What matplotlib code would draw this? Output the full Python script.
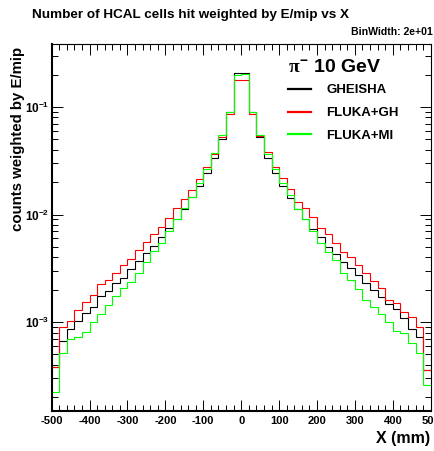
import numpy as np
import matplotlib
matplotlib.use("Agg")
import matplotlib.pyplot as plt
from matplotlib.ticker import MultipleLocator, LogLocator, NullFormatter, FixedLocator, FixedFormatter
from matplotlib.lines import Line2D

plt.rcParams['font.family'] = ['Liberation Sans', 'DejaVu Sans']
plt.rcParams['font.weight'] = 'bold'
plt.rcParams['mathtext.fontset'] = 'custom'
plt.rcParams['mathtext.rm'] = 'Liberation Sans:bold'
plt.rcParams['mathtext.bf'] = 'Liberation Sans:bold'
plt.rcParams['mathtext.it'] = 'Liberation Serif'

# Histogram binning (mm)
x_lo, x_hi, bin_width = -500, 500, 20
edges = np.arange(x_lo, x_hi + bin_width, bin_width)

# Energy-weighted hit counts per 20 mm bin in X
gheisha = [3.8e-4, 6.66e-4, 8.55e-4, 1.028e-3, 1.204e-3, 1.37e-3, 1.745e-3, 1.94e-3, 2.32e-3, 2.55e-3,
           3.09e-3, 3.68e-3, 4.35e-3, 5.15e-3, 6.14e-3, 7.44e-3, 9.08e-3, 1.124e-2, 1.445e-2, 1.83e-2,
           2.41e-2, 3.36e-2, 5.03e-2, 9.04e-2, 0.2085, 0.2056, 8.92e-2, 5.22e-2, 3.38e-2, 2.41e-2,
           1.84e-2, 1.432e-2, 1.124e-2, 9.08e-3, 7.28e-3, 6.22e-3, 5.02e-3, 4.27e-3, 3.64e-3, 3.16e-3,
           2.73e-3, 2.29e-3, 1.99e-3, 1.72e-3, 1.47e-3, 1.31e-3, 1.08e-3, 8.6e-4, 7.2e-4, 3.55e-4]

fluka_gh = [3.84e-4, 9.04e-4, 1.028e-3, 1.294e-3, 1.535e-3, 1.77e-3, 2.24e-3, 2.46e-3, 2.88e-3, 3.39e-3,
            3.86e-3, 4.70e-3, 5.58e-3, 6.59e-3, 7.71e-3, 9.23e-3, 1.156e-2, 1.384e-2, 1.69e-2, 2.14e-2,
            2.79e-2, 3.66e-2, 5.30e-2, 8.61e-2, 0.178, 0.178, 8.55e-2, 5.37e-2, 3.79e-2, 2.79e-2,
            2.17e-2, 1.714e-2, 1.315e-2, 1.14e-2, 9.55e-3, 7.53e-3, 6.55e-3, 5.47e-3, 4.51e-3, 4.0e-3,
            3.39e-3, 2.88e-3, 2.42e-3, 2.06e-3, 1.62e-3, 1.51e-3, 1.25e-3, 1.12e-3, 9.04e-4, 3.6e-4]

fluka_mi = [2.22e-4, 5.19e-4, 6.9e-4, 7.31e-4, 8.07e-4, 1.0e-3, 1.20e-3, 1.44e-3, 1.76e-3, 2.06e-3,
            2.37e-3, 2.89e-3, 3.64e-3, 4.60e-3, 5.47e-3, 7.03e-3, 9.08e-3, 1.14e-2, 1.465e-2, 1.95e-2,
            2.67e-2, 3.71e-2, 5.46e-2, 9.04e-2, 0.200, 0.2027, 9.04e-2, 5.49e-2, 3.63e-2, 2.65e-2,
            1.95e-2, 1.517e-2, 1.124e-2, 9.08e-3, 7.06e-3, 5.47e-3, 4.51e-3, 3.78e-3, 2.84e-3, 2.46e-3,
            2.01e-3, 1.60e-3, 1.39e-3, 1.20e-3, 1.0e-3, 8.24e-4, 7.85e-4, 6.34e-4, 5.12e-4, 2.6e-4]

series_labels = ["GHEISHA", "FLUKA+GH", "FLUKA+MI"]
series_colors = ["#000000", "#ff0000", "#00ff00"]
x_ticks = [-500, -400, -300, -200, -100, 0, 100, 200, 300, 400, 500]
y_ticks = [1e-3, 1e-2, 1e-1]
y_tick_labels = [r"$\mathbf{10^{-3}}$", r"$\mathbf{10^{-2}}$", r"$\mathbf{10^{-1}}$"]

W, H = 435, 451
fig = plt.figure(figsize=(W / 100, H / 100), dpi=100)
ax = fig.add_axes([51.7 / W, 1 - 410.7 / H, (430.7 - 51.7) / W, (410.7 - 44) / H])

for vals, col in zip([gheisha, fluka_gh, fluka_mi], series_colors):
    ax.stairs(vals, edges, color=col, linewidth=0.8, baseline=None)

ax.set_xlim(x_lo, x_hi)
ax.set_yscale("log")
ax.set_ylim(1.50e-4, 0.385)

ax.xaxis.set_major_locator(FixedLocator(x_ticks))
ax.set_xticklabels([str(t) for t in x_ticks])
ax.xaxis.set_minor_locator(MultipleLocator(20))
ax.yaxis.set_major_locator(FixedLocator(y_ticks))
ax.yaxis.set_major_formatter(FixedFormatter(y_tick_labels))
ax.yaxis.set_minor_locator(LogLocator(base=10, subs=np.arange(2, 10)))
ax.yaxis.set_minor_formatter(NullFormatter())

ax.tick_params(which="both", direction="in", top=True, right=True, width=0.7, colors="black")
ax.tick_params(which="major", length=8)
ax.tick_params(which="minor", length=4)
ax.tick_params(axis="x", labelsize=8, pad=4)
ax.tick_params(axis="y", labelsize=8.5, pad=2)
for lab in ax.get_xticklabels():
    lab.set_fontweight("bold")

ax.spines["left"].set_linewidth(1.5)
ax.spines["bottom"].set_linewidth(1.5)
ax.spines["top"].set_linewidth(0.8)
ax.spines["right"].set_linewidth(0.8)

fig.text(31.7 / W, 1 - 15 / H, "Number of HCAL cells hit weighted by E/mip vs X",
         fontsize=9.7, fontweight="bold", ha="left", va="center")
fig.text(433 / W, 1 - 32 / H, "BinWidth: 2e+01", fontsize=7.6, fontweight="bold",
         ha="right", va="center")
fig.text(18.5 / W, 1 - 47 / H, "counts weighted by E/mip", fontsize=10.8, fontweight="bold",
         rotation=90, ha="center", va="top")
fig.text(430 / W, 1 - 438 / H, "X (mm)", fontsize=11.5, fontweight="bold",
         ha="right", va="center")

ax.text(0.624, 0.935, r"$\pi^{-}$" + " 10 GeV", transform=ax.transAxes, fontsize=14,
        fontweight="bold", ha="left", va="center")

handles = [Line2D([], [], color=c, linewidth=1.6) for c in series_colors]
ax.legend(handles, series_labels, loc="upper left", bbox_to_anchor=(0.624, 0.891),
          frameon=False, handlelength=1.7, handletextpad=1.2,
          labelspacing=0.81, borderpad=0, borderaxespad=0,
          prop={"weight": "bold", "size": 9.5})

fig.savefig("out.png", dpi=100)
